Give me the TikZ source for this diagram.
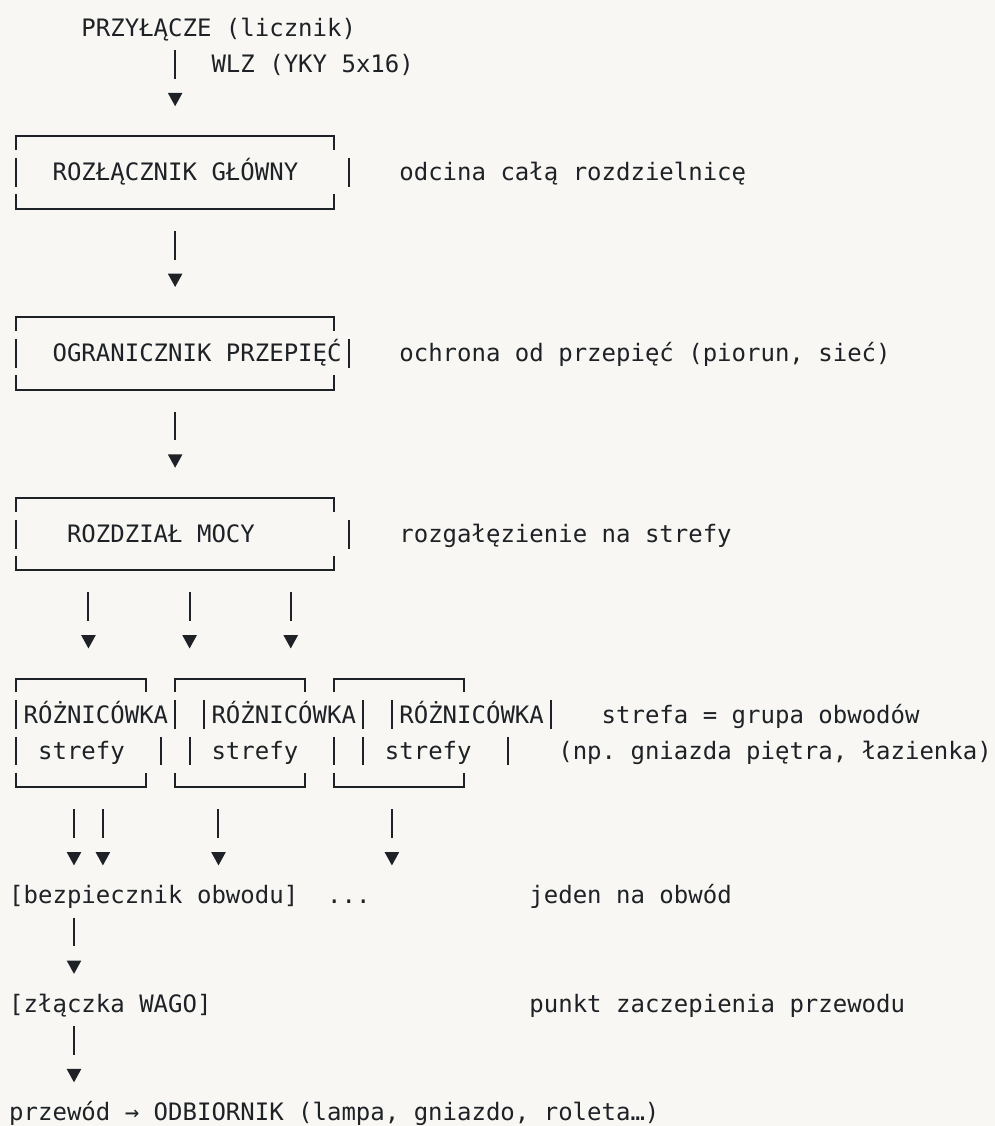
\documentclass[tikz,border=0pt]{standalone}
\usepackage{fontspec}
\setmonofont{DejaVu Sans Mono}
\usetikzlibrary{arrows.meta,fit}
\definecolor{bg}{HTML}{F8F7F3}
\definecolor{ink}{HTML}{1E2226}
\newcommand\asciiframe[4]{%
  \draw[boxline] (#1,{#3+0.38}) -- (#1,#3) -- (#2,#3) -- (#2,{#3+0.38});
  \draw[boxline] (#1,{#4-0.4}) -- (#1,#4) -- (#2,#4) -- (#2,{#4-0.4});
}
\newcommand\vbarat[2]{\draw[boxline] (#1,{#2-0.4}) -- (#1,{#2+0.4});}
\begin{document}
\begin{tikzpicture}[x=10.8375pt, y=-27.1125pt,
  txt/.style={font=\ttfamily\fontsize{18pt}{20pt}\selectfont, text=ink, inner sep=0pt,
    anchor=west, text height=19.8pt, text depth=7.31pt},
  boxline/.style={draw=ink, line width=1.5pt},
  framenode/.style={inner sep=0pt, draw=none},
  conn/.style={draw=ink, line width=1.5pt, dash pattern=on 21.7pt off 60pt,
    -{Triangle[length=10pt,width=11pt,line width=0pt]}},
  bb/.style={conn, shorten <=16.3pt, shorten >=22.5pt},
  tb/.style={conn, shorten <=2.7pt, shorten >=22.5pt},
  bt/.style={conn, shorten <=16.3pt, shorten >=8.9pt},
  tt/.style={conn, shorten <=2.7pt, shorten >=8.9pt}]
\fill[bg] (0,0) rectangle (68.858,31.148);
\useasboundingbox (0,0) rectangle (68.858,31.148);
\begin{scope}[shift={(1.121,0.7746)}]
% column references
\foreach \c in {4,5,6,11,12,14,19,26} {\coordinate (c\c) at (\c,0);}
% text nodes
\node[txt] (pr)   at (4.5,0)  {PRZYŁĄCZE (licznik)};
\node[txt] (wlz)  at (13.5,1) {WLZ (YKY 5x16)};
\node[txt] (t1)   at (2.5,4)  {ROZŁĄCZNIK GŁÓWNY};
\node[txt] (n1)   at (26.5,4) {odcina całą rozdzielnicę};
\node[txt] (t2)   at (2.5,9)  {OGRANICZNIK PRZEPIĘĆ};
\node[txt] (n2)   at (26.5,9) {ochrona od przepięć (piorun, sieć)};
\node[txt] (t3)   at (3.5,14) {ROZDZIAŁ MOCY};
\node[txt] (n3)   at (26.5,14) {rozgałęzienie na strefy};
\node[txt] (ra)   at (0.5,19) {RÓŻNICÓWKA};
\node[txt] (rb)   at (13.5,19) {RÓŻNICÓWKA};
\node[txt] (rc)   at (26.5,19) {RÓŻNICÓWKA};
\node[txt] (sa)   at (1.5,20) {strefy};
\node[txt] (sb)   at (13.5,20) {strefy};
\node[txt] (sc)   at (25.5,20) {strefy};
\node[txt] (n4)   at (40.5,19) {strefa = grupa obwodów};
\node[txt] (n5)   at (37.5,20) {(np. gniazda piętra, łazienka)};
\node[txt] (bez)  at (-0.5,24) {[bezpiecznik obwodu]};
\node[txt] (dots) at (21.5,24) {...};
\node[txt] (n6)   at (35.5,24) {jeden na obwód};
\node[txt] (wago) at (-0.5,27) {[złączka WAGO]};
\node[txt] (n7)   at (35.5,27) {punkt zaczepienia przewodu};
\node[txt] (odb)  at (-0.5,30) {przewód → ODBIORNIK (lampa, gniazdo, roleta…)};
% box areas
\node[framenode, fit={(0,3) (22,5)}] (b1) {};
\node[framenode, fit={(0,8) (22,10)}] (b2) {};
\node[framenode, fit={(0,13) (22,15)}] (b3) {};
\node[framenode, fit={(0,18) (9,21)}] (za) {};
\node[framenode, fit={(11,18) (20,21)}] (zb) {};
\node[framenode, fit={(22,18) (31,21)}] (zc) {};
% ascii-style frames
\asciiframe{0}{22}{3}{5}
\asciiframe{0}{22}{8}{10}
\asciiframe{0}{22}{13}{15}
\asciiframe{0}{9}{18}{21}
\asciiframe{11}{20}{18}{21}
\asciiframe{22}{31}{18}{21}
\vbarat{0}{4}\vbarat{23}{4}
\vbarat{0}{9}\vbarat{23}{9}
\vbarat{0}{14}\vbarat{23}{14}
\foreach \c in {0,11,13,24,26,37} {\vbarat{\c}{19}}
\foreach \c in {0,10,12,22,24,34} {\vbarat{\c}{20}}
% connectors
\draw[tb] (pr.south -| c11) -- (b1.north -| c11);
\draw[bb] (b1.south -| c11) -- (b2.north -| c11);
\draw[bb] (b2.south -| c11) -- (b3.north -| c11);
\draw[bb] (b3.south -| c5) -- (za.north -| c5);
\draw[bb] (b3.south -| c12) -- (zb.north -| c12);
\draw[bb] (b3.south -| c19) -- (zc.north -| c19);
\draw[bt] (za.south -| c4) -- (bez.north -| c4);
\draw[bt] (za.south -| c6) -- (bez.north -| c6);
\draw[bt] (zb.south -| c14) -- (bez.north -| c14);
\draw[bt] (zc.south -| c26) -- (dots.north -| c26);
\draw[tt] (bez.south -| c4) -- (wago.north -| c4);
\draw[tt] (wago.south -| c4) -- (odb.north -| c4);
\end{scope}
\end{tikzpicture}
\end{document}
